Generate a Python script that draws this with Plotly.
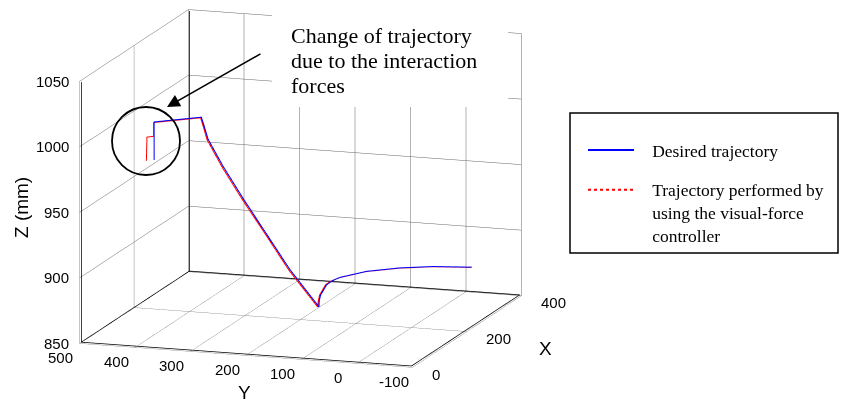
import plotly.graph_objects as go

# Axis ranges and tick values (mm)
X_RANGE = [0, 400]
Y_RANGE = [-100, 500]
Z_RANGE = [850, 1050]
X_TICKS = [0, 200, 400]
Y_TICKS = [-100, 0, 100, 200, 300, 400, 500]
Z_TICKS = [850, 900, 950, 1000, 1050]

# Desired trajectory (mm)
desired_x = [60, 60, 101, 102.5, 105.4, 115.5, 129, 144.8, 160.5, 180, 180.5, 181.3, 186, 190, 196.5, 217.5, 243.6, 269.6, 300]
desired_y = [395, 395, 330, 325.9, 320.1, 298, 268.5, 234.1, 199.7, 156.9, 156.6, 154.5, 146, 138.4, 127.1, 89.2, 41.9, -4.9, -59.8]
desired_z = [985, 1014, 1014, 1007.4, 996.9, 975.5, 950, 921.8, 893.6, 863.8, 868.4, 872.7, 880.1, 882.7, 884.9, 887.8, 888.3, 887.2, 884.2]

# Trajectory performed with the visual-force controller (mm)
performed_x = [60, 60, 60, 60, 101, 102.5, 105.4, 115.5, 129, 144.8, 160.5, 180, 180.5, 181.3, 186, 190, 196.5, 217.5, 243.6, 269.6, 300]
performed_y = [409, 408, 396, 396, 331.5, 327.5, 322, 300, 270.5, 236, 201.5, 159, 158.5, 156.5, 148, 140.5, 129, 91, 43.5, -3.5, -58.5]
performed_z = [984, 1002, 1003, 1013.5, 1013.5, 1007, 996.5, 975, 949.5, 921.5, 893, 863.5, 868, 872.5, 880, 882.5, 884.5, 887.5, 888, 887, 884]

# Callout text, one entry per line
CALLOUT = ["Change of trajectory", "due to the interaction", "forces"]

W, H = 841, 400
SANS = "Liberation Sans, Arial, sans-serif"
SERIF = "Liberation Serif, Times New Roman, serif"
TICK_FONT = dict(family=SANS, size=15, color="black")
TITLE_FONT = dict(family=SANS, size=19, color="black")
PAD = "\u00a0\u00a0\u00a0"


def inset(rng, frac=0.004):
    # keep edge lines just inside the clipping box
    d = (rng[1] - rng[0]) * frac
    return rng[0] + d, rng[1] - d


x0, x1 = X_RANGE
y0, y1 = Y_RANGE
z0, z1 = Z_RANGE
ex0, ex1 = inset(X_RANGE)
ey0, ey1 = inset(Y_RANGE)
ez0, ez1 = inset(Z_RANGE)

fig = go.Figure()
# box edges drawn as one continuous path: Y axis, Z axis, floor edge,
# far vertical edge, far floor edge and X axis
fig.add_trace(go.Scatter3d(
    x=[ex0, ex0, ex0, ex0, ex1, ex1, ex1, ex1, ex0],
    y=[ey0, ey1, ey1, ey1, ey1, ey1, ey1, ey0, ey0],
    z=[ez0, ez0, ez1, ez0, ez0, ez1, ez0, ez0, ez0],
    mode="lines", line=dict(color="black", width=1.5),
    showlegend=False, hoverinfo="skip"))
fig.add_trace(go.Scatter3d(
    x=desired_x, y=desired_y, z=desired_z, mode="lines",
    line=dict(color="#0000ff", width=2),
    name=PAD + "Desired trajectory", legendgroup="a"))
fig.add_trace(go.Scatter3d(
    x=performed_x, y=performed_y, z=performed_z, mode="lines",
    line=dict(color="#ff0000", width=2),
    showlegend=False, legendgroup="b"))
# legend entry for the performed trajectory, drawn dotted
fig.add_trace(go.Scatter3d(
    x=[None], y=[None], z=[None], mode="lines",
    line=dict(color="#ff0000", width=2, dash="dot"),
    name=PAD + "Trajectory performed by<br>" + PAD + "using the visual-force<br>" + PAD + "controller",
    legendgroup="b"))


def axis(rng, ticks):
    return dict(
        range=rng, tickvals=ticks, autorange=False, showticklabels=False,
        showgrid=True, gridcolor="#666666", gridwidth=1,
        showline=False, ticks="",
        showbackground=False, showspikes=False, zeroline=False,
        title=dict(text=""),
    )


# tick labels and axis names placed at data positions in the scene
scene_notes = []
for zt in Z_TICKS:
    scene_notes.append(dict(x=x0, y=y1, z=zt, text=str(zt), showarrow=False,
                            xanchor="right", yanchor="middle", xshift=-9,
                            font=TICK_FONT))
for yt in Y_TICKS:
    scene_notes.append(dict(x=x0, y=yt, z=z0, text=str(yt), showarrow=False,
                            xanchor="center", yanchor="middle", xshift=-19, yshift=-14,
                            font=TICK_FONT))
for xt in X_TICKS:
    scene_notes.append(dict(x=xt, y=y0, z=z0, text=str(xt), showarrow=False,
                            xanchor="left", yanchor="middle", xshift=17, yshift=-7,
                            font=TICK_FONT))
scene_notes.append(dict(x=x0, y=(y0 + y1) / 2, z=z0, text="Y", showarrow=False,
                        xanchor="center", yanchor="middle", xshift=-2, yshift=-37,
                        font=TITLE_FONT))
scene_notes.append(dict(x=(x0 + x1) / 2, y=y0, z=z0, text="X", showarrow=False,
                        xanchor="center", yanchor="middle", xshift=78, yshift=-17,
                        font=TITLE_FONT))

annotations = [
    dict(text="Z (mm)", xref="paper", yref="paper", x=21 / W, y=1 - 208 / H,
         xanchor="center", yanchor="middle",
         textangle=-90, showarrow=False, font=TITLE_FONT),
    dict(text="", xref="paper", yref="paper", x=167 / W, y=1 - 107 / H,
         ax=95, ay=-54, axref="pixel", ayref="pixel",
         showarrow=True, arrowhead=2, arrowsize=1.6, arrowwidth=1.6,
         arrowcolor="black", standoff=0),
]
for i, line in enumerate(CALLOUT):
    annotations.append(dict(
        text=line, xref="paper", yref="paper", x=289 / W, y=1 - (36 + 25 * i) / H,
        xanchor="left", yanchor="middle", showarrow=False,
        font=dict(family=SERIF, size=22, color="black")))

S = 1.86
k = 4.0
fig.update_layout(
    width=W, height=H,
    margin=dict(l=0, r=0, t=0, b=0),
    paper_bgcolor="white",
    showlegend=True,
    legend=dict(
        x=583 / W, y=1 - 132 / H, xanchor="left", yanchor="top",
        bgcolor="rgba(0,0,0,0)", borderwidth=0,
        font=dict(family=SERIF, size=17.5, color="black"),
        itemwidth=46, valign="top", tracegroupgap=14,
    ),
    scene=dict(
        domain=dict(x=[0, 0.715], y=[0.058, 1.0]),
        aspectmode="manual", aspectratio=dict(x=0.99 * S, y=1.0 * S, z=0.766 * S),
        camera=dict(
            projection=dict(type="orthographic"),
            eye=dict(x=-0.9266 * k, y=-0.3065 * k, z=0.2176 * k),
            up=dict(x=0, y=0, z=1), center=dict(x=0, y=0, z=0),
        ),
        xaxis=axis(X_RANGE, X_TICKS),
        yaxis=axis(Y_RANGE, Y_TICKS),
        zaxis=axis(Z_RANGE, Z_TICKS),
        annotations=scene_notes,
    ),
    annotations=annotations,
    shapes=[
        # white panel behind the callout text
        dict(type="rect", xref="paper", yref="paper",
             x0=272 / W, x1=508 / W, y0=1 - 107 / H, y1=1 - 5 / H,
             line=dict(width=0), fillcolor="white", layer="above"),
        dict(type="circle", xref="paper", yref="paper",
             x0=112 / W, x1=180 / W, y0=1 - 175 / H, y1=1 - 107 / H,
             line=dict(color="black", width=1.8), layer="above"),
        # legend frame
        dict(type="rect", xref="paper", yref="paper",
             x0=570 / W, x1=838 / W, y0=1 - 253 / H, y1=1 - 113 / H,
             line=dict(color="black", width=1.5), fillcolor="rgba(0,0,0,0)", layer="above"),
    ],
)

fig.write_html("out.html")
